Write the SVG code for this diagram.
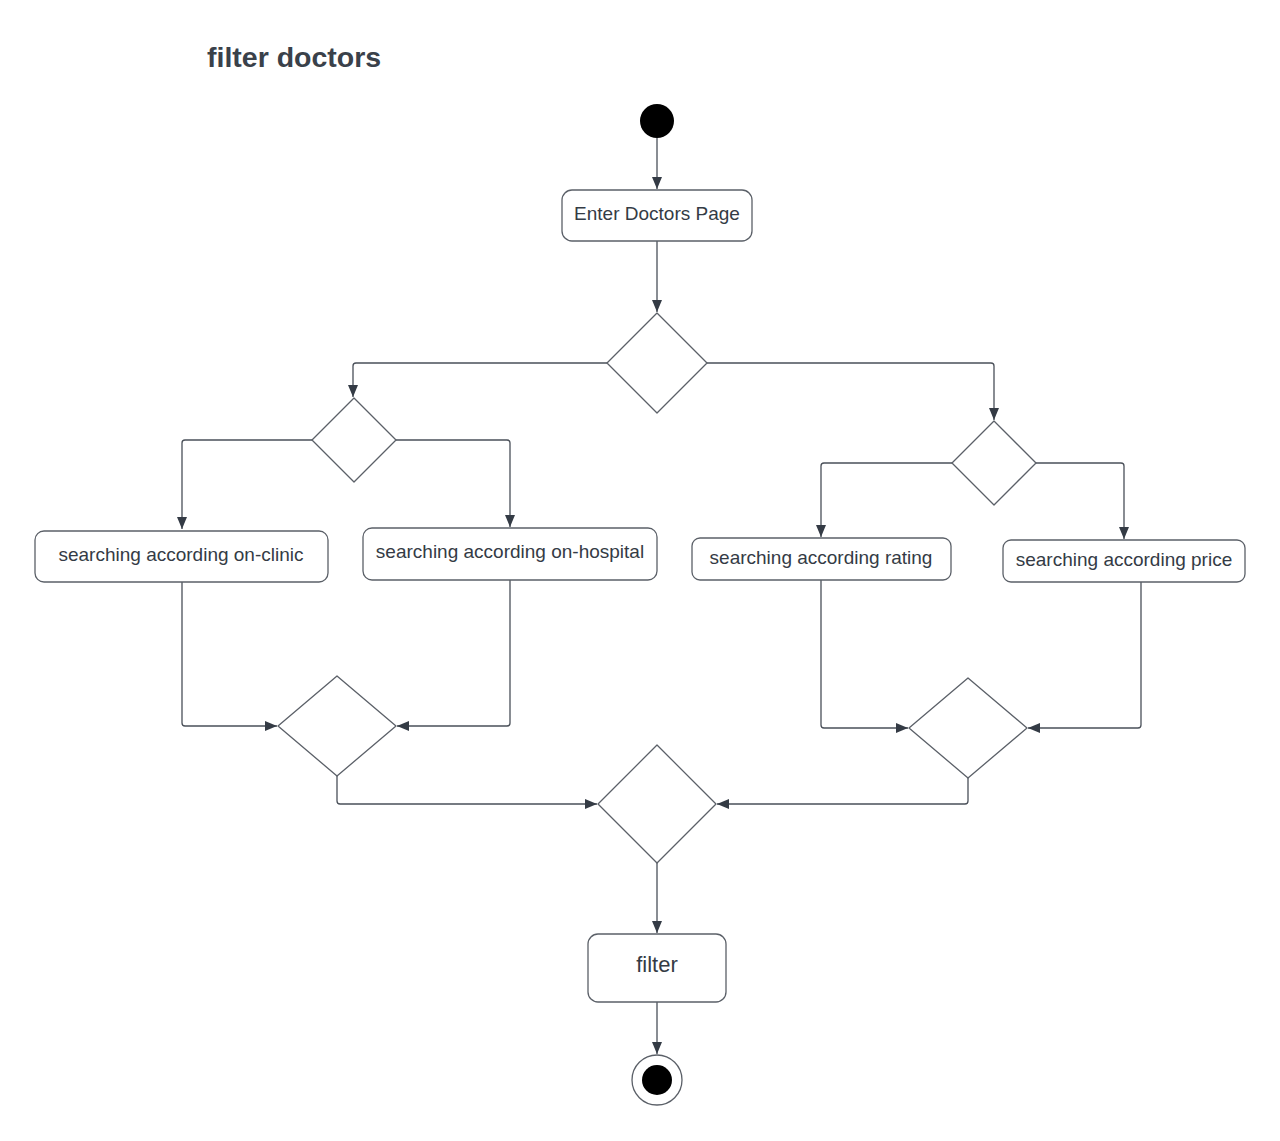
<svg xmlns="http://www.w3.org/2000/svg" width="1280" height="1141" viewBox="0 0 1280 1141">
<style>
.box{fill:#fff;stroke:#5b6068;stroke-width:1.3}
.dia{fill:#fff;stroke:#5b6068;stroke-width:1.3;stroke-linejoin:round}
.lbl{font-family:"Liberation Sans",Arial,sans-serif;font-size:19px;fill:#343b45;text-anchor:middle}
.edge{fill:none;stroke:#4a5059;stroke-width:1.3;stroke-linejoin:round}
</style>
<defs>
<marker id="arr" viewBox="0 0 12 12" refX="12" refY="6" markerWidth="12" markerHeight="12" markerUnits="userSpaceOnUse" orient="auto">
<path d="M0,1 L12,6 L0,11 Z" fill="#343b45"/>
</marker>
</defs>
<rect width="1280" height="1141" fill="#fff"/>
<text x="207" y="67" font-family="'Liberation Sans',Arial,sans-serif" font-size="28.5" font-weight="bold" fill="#3a414a">filter doctors</text>

<g id="connectors">
<path class="edge" d="M657,138 V189" marker-end="url(#arr)"/>
<path class="edge" d="M657,241 V312" marker-end="url(#arr)"/>
<path class="edge" d="M607,363 H356 Q353,363 353,366 V397" marker-end="url(#arr)"/>
<path class="edge" d="M707,363 H991 Q994,363 994,366 V420" marker-end="url(#arr)"/>
<path class="edge" d="M312,440 H185 Q182,440 182,443 V529" marker-end="url(#arr)"/>
<path class="edge" d="M396,440 H507 Q510,440 510,443 V527" marker-end="url(#arr)"/>
<path class="edge" d="M952,463 H824 Q821,463 821,466 V537" marker-end="url(#arr)"/>
<path class="edge" d="M1036,463 H1121 Q1124,463 1124,466 V539" marker-end="url(#arr)"/>
<path class="edge" d="M182,582 V723 Q182,726 185,726 H277" marker-end="url(#arr)"/>
<path class="edge" d="M510,580 V723 Q510,726 507,726 H397" marker-end="url(#arr)"/>
<path class="edge" d="M821,580 V725 Q821,728 824,728 H908" marker-end="url(#arr)"/>
<path class="edge" d="M1141,582 V725 Q1141,728 1138,728 H1028" marker-end="url(#arr)"/>
<path class="edge" d="M337,776 V801 Q337,804 340,804 H597" marker-end="url(#arr)"/>
<path class="edge" d="M968,778 V801 Q968,804 965,804 H717" marker-end="url(#arr)"/>
<path class="edge" d="M657,863 V933" marker-end="url(#arr)"/>
<path class="edge" d="M657,1002 V1054" marker-end="url(#arr)"/>
</g>

<g id="start"><circle cx="657" cy="121" r="17" fill="#000"/></g>

<g id="enter">
<rect class="box" x="562" y="190" width="190" height="51" rx="10"/>
<text class="lbl" x="657" y="220">Enter Doctors Page</text>
</g>

<g id="decision1"><path class="dia" d="M657,313 L707,363 L657,413 L607,363 Z"/></g>
<g id="decision2"><path class="dia" d="M354,398 L396,440 L354,482 L312,440 Z"/></g>
<g id="decision3"><path class="dia" d="M994,421 L1036,463 L994,505 L952,463 Z"/></g>

<g id="clinic">
<rect class="box" x="35" y="531" width="293" height="51" rx="9"/>
<text class="lbl" x="181" y="561">searching according on-clinic</text>
</g>
<g id="hospital">
<rect class="box" x="363" y="528" width="294" height="52" rx="9"/>
<text class="lbl" x="510" y="558">searching according on-hospital</text>
</g>
<g id="rating">
<rect class="box" x="692" y="538" width="259" height="42" rx="8"/>
<text class="lbl" x="821" y="564">searching according rating</text>
</g>
<g id="price">
<rect class="box" x="1003" y="540" width="242" height="42" rx="8"/>
<text class="lbl" x="1124" y="566">searching according price</text>
</g>

<g id="merge1"><path class="dia" d="M337,676 L396,726 L337,776 L278,726 Z"/></g>
<g id="merge2"><path class="dia" d="M968,678 L1027,728 L968,778 L909,728 Z"/></g>
<g id="merge3"><path class="dia" d="M657,745 L716,804 L657,863 L598,804 Z"/></g>

<g id="filter">
<rect class="box" x="588" y="934" width="138" height="68" rx="10"/>
<text class="lbl" x="657" y="972" style="font-size:22px">filter</text>
</g>

<g id="end">
<circle cx="657" cy="1080" r="25" fill="#fff" stroke="#5b6068" stroke-width="1.3"/>
<circle cx="657" cy="1080" r="15" fill="#000"/>
</g>
</svg>
